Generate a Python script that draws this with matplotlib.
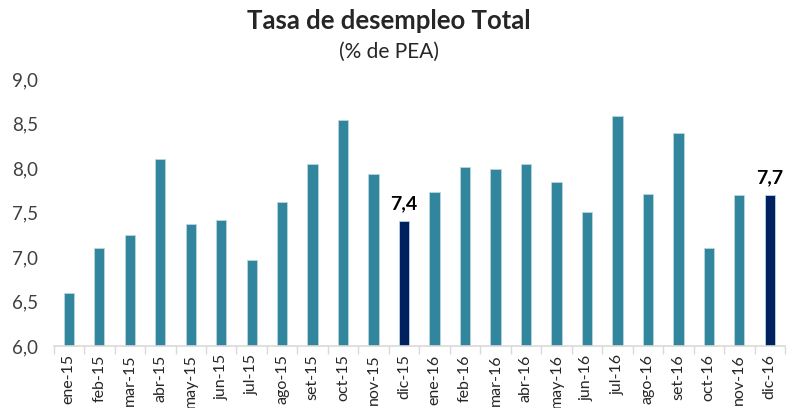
import matplotlib
matplotlib.use("Agg")
import matplotlib.pyplot as plt
import numpy as np

categories = ["ene-15", "feb-15", "mar-15", "abr-15", "may-15", "jun-15", "jul-15", "ago-15",
              "set-15", "oct-15", "nov-15", "dic-15", "ene-16", "feb-16", "mar-16", "abr-16",
              "may-16", "jun-16", "jul-16", "ago-16", "set-16", "oct-16", "nov-16", "dic-16"]
values = [6.6, 7.1, 7.25, 8.1, 7.37, 7.42, 6.97, 7.62, 8.04, 8.54, 7.93, 7.4,
          7.73, 8.01, 7.99, 8.05, 7.84, 7.51, 8.58, 7.71, 8.39, 7.1, 7.7, 7.7]
highlight = ["dic-15", "dic-16"]
labels = {"dic-15": "7,4", "dic-16": "7,7"}
yticks = [6.0, 6.5, 7.0, 7.5, 8.0, 8.5, 9.0]

plt.rcParams['font.family'] = ['Lato', 'DejaVu Sans']

fig = plt.figure(figsize=(7.87, 4.08), dpi=100)
ax = fig.add_axes([53.6 / 787, 62 / 408, (785 - 53.6) / 787, 267 / 408])

x = np.arange(len(categories))
colors = ["#002060" if c in highlight else "#31859C" for c in categories]
ax.bar(x, [v - 6.0 for v in values], bottom=6.0, width=0.34, color=colors,
       edgecolor="#b8d6df", linewidth=0.6)

for i, c in enumerate(categories):
    if c in labels:
        ax.text(i, values[i] + 0.1, labels[c], ha="center", va="bottom",
                fontsize=14, fontweight="bold", color="black")

ax.set_xlim(-0.5, len(categories) - 0.5)
ax.set_ylim(6.0, 9.0)
ax.set_yticks(yticks)
ax.set_yticklabels([f"{t:.1f}".replace(".", ",") for t in yticks], fontsize=13.5, color="#404040")
ax.tick_params(axis="y", length=0, pad=11)

ax.set_xticks(x)
ax.set_xticklabels(categories, rotation=90, fontsize=11.5, color="#262626")
ax.set_xticks(np.arange(-0.5, len(categories), 1), minor=True)
ax.tick_params(axis="x", which="major", length=0, pad=6)
ax.tick_params(axis="x", which="minor", length=6, color="#d9d9d9", width=1)

for s in ["top", "right", "left"]:
    ax.spines[s].set_visible(False)
ax.spines["bottom"].set_color("#d9d9d9")
ax.spines["bottom"].set_linewidth(1.2)

fig.text(389 / 787, 1 - 21 / 408, "Tasa de desempleo Total", ha="center", va="center",
         fontsize=18.5, fontweight="bold", color="#262626")
fig.text(389 / 787, 1 - 52 / 408, "(% de PEA)", ha="center", va="center",
         fontsize=15, color="#262626")

fig.savefig("out.png", dpi=100)
